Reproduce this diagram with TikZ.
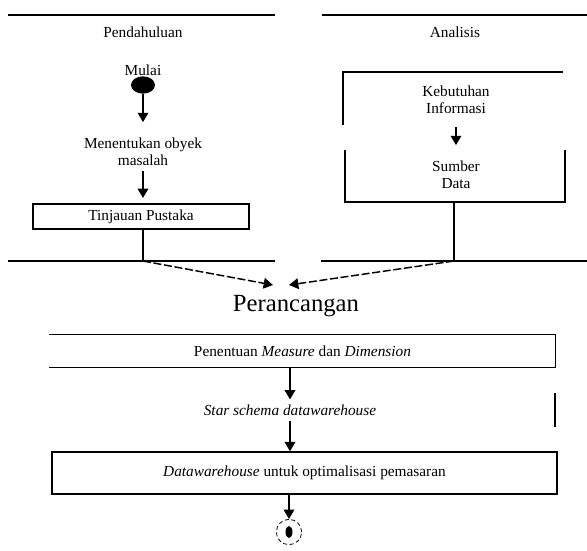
\documentclass[tikz,border=0pt]{standalone}
\usepackage{fontspec}
\setmainfont{Liberation Serif}
\usetikzlibrary{arrows.meta, shapes.geometric}

\begin{document}
\begin{tikzpicture}[x=0.75pt, y=-0.75pt, font=\fontsize{11.5}{13}\selectfont,
        >={Triangle[width=8pt, length=7pt]}, line width=1.1pt]
            \useasboundingbox (0,0) rectangle (587,551);
            % garis pembatas
            \draw (8,15) -- (275,15) (322,15) -- (587,15);
            \draw (8,261) -- (275,261) (321,261) -- (587,261);
            \node (pend) at (143,32) {Pendahuluan};
            \node (anal) at (455,32) {Analisis};
            \node (mulai) at (143,70) {Mulai};
            \node [ellipse, fill, minimum width=18, minimum height=13, inner sep=0] (start) at (143,85) {};
            \node [align=center] (objek) at (143,152) {Menentukan obyek\\masalah};
            \node [draw, minimum width=162pt, minimum height=18.75pt] (tinjau) at (141,216.5) {Tinjauan Pustaka};
            \node [align=center] (kebut) at (456,100) {Kebutuhan\\Informasi};
            \node [align=center] (sumber) at (456,175) {Sumber\\Data};
            \draw (343,125) |- (563,72);
            \draw (345,150) |- (565,202) -- (565,150);
            \coordinate (sdbot) at (454,202);
            \coordinate (pjoin) at (143,261);
            \coordinate (ajoin) at (454,261);
            \coordinate (lin) at (273,285);
            \coordinate (rin) at (289,285);
            \draw [->, shorten >=8] (start) -- (objek);
            \draw [->, shorten >=4] (objek) -- (tinjau.north -| objek);
            \draw [->, shorten <=6, shorten >=8] (kebut) -- (sumber);
            \draw (tinjau.south -| pjoin) -- (pjoin) (sdbot) -- (ajoin);
            \draw [->, dash pattern=on 6pt off 2pt] (pjoin) -- (lin);
            \draw [->, dash pattern=on 6pt off 2pt] (ajoin) -- (rin);
            \node [font=\fontsize{18.5}{21}\selectfont] (ranc) at (296,306) {Perancangan};
            \node [minimum width=378.75pt, minimum height=24pt] (tentu) at (302.5,351) {Penentuan \textit{Measure} dan \textit{Dimension}};
            \draw (tentu.north west) -- (tentu.north east) -- (tentu.south east) -- (tentu.south west);
            \node (star) at (290,410) {\textit{Star schema datawarehouse}};
            \draw (555,393) -- (555,427);
            \node [draw, minimum width=378.75pt, minimum height=31.5pt] (dw) at (304.5,473) {\textit{Datawarehouse} untuk optimalisasi pemasaran};
            \node [circle, draw, densely dashed, line width=0.6pt, minimum size=19pt, inner sep=0] (akhir) at (289,532) {};
            \fill (akhir) ellipse (2.6pt and 4.5pt);
            \draw [->] (tentu.south -| star) -- (star);
            \draw [->] (star) -- (dw.north -| star);
            \draw [->] (dw.south -| akhir) -- (akhir);
        \end{tikzpicture}
\end{document}
